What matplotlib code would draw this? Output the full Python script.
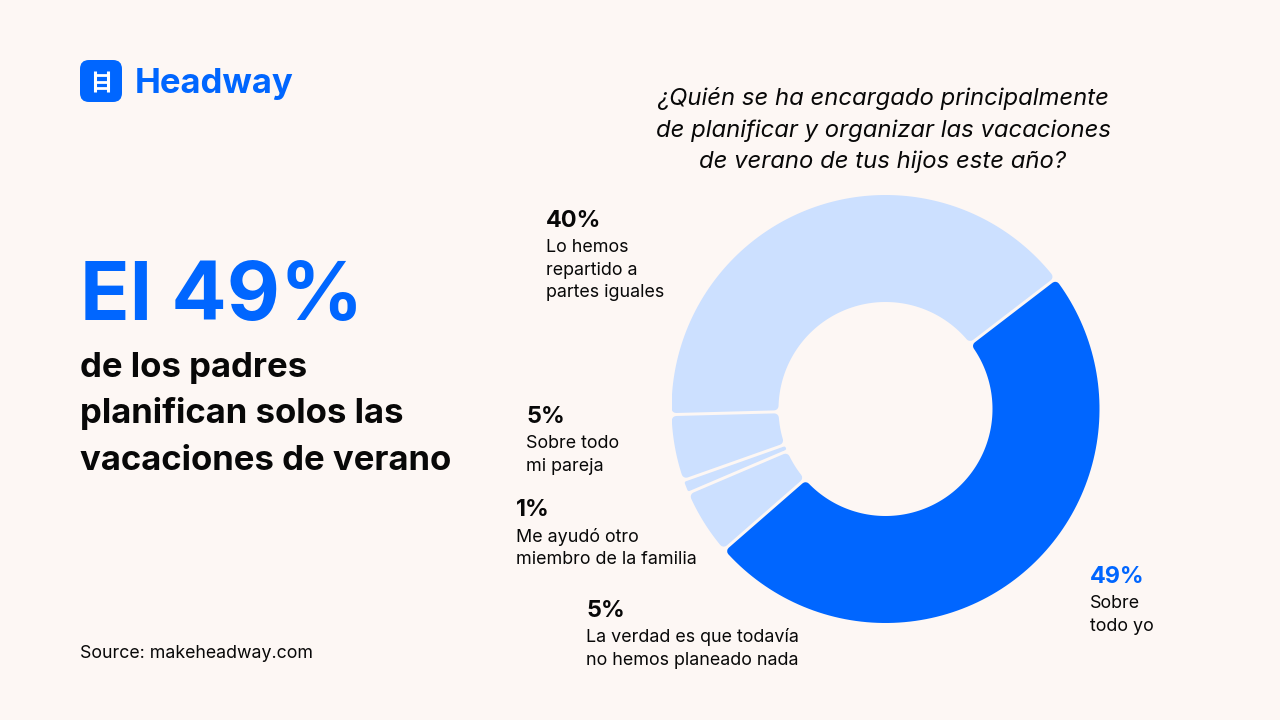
import numpy as np
import matplotlib
matplotlib.use("Agg")
import matplotlib.pyplot as plt
from matplotlib import font_manager as fm
from matplotlib.patches import FancyBboxPatch, Polygon
from matplotlib.lines import Line2D

# ---------------- data ----------------
categories = ["Sobre todo yo",
              "La verdad es que todavía no hemos planeado nada",
              "Me ayudó otro miembro de la familia",
              "Sobre todo mi pareja",
              "Lo hemos repartido a partes iguales"]
values = [49, 5, 1, 5, 40]
pct_labels = ["49%", "5%", "1%", "5%", "40%"]
label_lines = [["Sobre", "todo yo"],
               ["La verdad es que todavía", "no hemos planeado nada"],
               ["Me ayudó otro", "miembro de la familia"],
               ["Sobre todo", "mi pareja"],
               ["Lo hemos", "repartido a", "partes iguales"]]
question = ["¿Quién se ha encargado principalmente",
            "de planificar y organizar las vacaciones",
            "de verano de tus hijos este año?"]
headline = "El 49%"
sub_lines = ["de los padres", "planifican solos las", "vacaciones de verano"]
source = "Source: makeheadway.com"
brand = "Headway"

# ---------------- style ----------------
BG = "#FDF7F4"
BLUE = "#0066FF"
LIGHT = "#CCE0FF"
TXT = "#080808"
slice_colors = [BLUE, LIGHT, LIGHT, LIGHT, LIGHT]
pct_colors = [BLUE, TXT, TXT, TXT, TXT]

FONT = "Inter"
plt.rcParams["font.family"] = [FONT, "DejaVu Sans"]

# italic family choice
italic_family = None
for fam in ["Inter", "Open Sans", "Lato", "Roboto", "Noto Sans", "Liberation Sans", "DejaVu Sans"]:
    for f in fm.fontManager.ttflist:
        if f.name == fam and f.style in ("italic", "oblique"):
            italic_family = fam
            break
    if italic_family:
        break

W, H = 1280, 720
fig = plt.figure(figsize=(W / 100, H / 100), dpi=100, facecolor=BG)


def px(x, y):
    return x / W, 1 - y / H


def ftext(x, y, s, **kw):
    fx, fy = px(x, y)
    fig.text(fx, fy, s, **kw)


# ---------------- logo ----------------
ov = fig.add_axes([0, 0, 1, 1], facecolor="none")
ov.set_xlim(0, W)
ov.set_ylim(H, 0)
ov.axis("off")
ov.add_patch(FancyBboxPatch((80 + 9, 60 + 9), 42 - 18, 42 - 18,
                            boxstyle="round,pad=9", fc=BLUE, ec="none"))
for xx in (94.5, 107.5):
    ov.add_line(Line2D([xx, xx], [70.5, 92], color="white", lw=2.2, solid_capstyle="butt"))
for yy in (75, 81.5, 88):
    ov.add_line(Line2D([94.5, 107.5], [yy, yy], color="white", lw=2.0, solid_capstyle="butt"))
ftext(135, 92.5, brand, fontsize=25, fontweight="bold", color=BLUE, va="baseline")

# ---------------- left headline ----------------
ftext(80, 320, headline, fontsize=59, fontweight="bold", color=BLUE, va="baseline")
for i, line in enumerate(sub_lines):
    ftext(80, 377 + i * 46.5, line, fontsize=25, fontweight="bold", color=TXT, va="baseline")
ftext(80, 658, source, fontsize=12.8, color=TXT, va="baseline")

# ---------------- question ----------------
qkw = dict(fontsize=17.2, color=TXT, va="baseline", ha="center", style="italic")
if italic_family:
    qkw["family"] = [italic_family, "DejaVu Sans"]
for i, line in enumerate(question):
    ftext(883, 105 + i * 31.5, line, **qkw)

# ---------------- donut ----------------
cx, cy, R = 885.5, 409, 214
ax = fig.add_axes([(cx - R) / W, (H - cy - R) / H, 2 * R / W, 2 * R / H])
wedges, _ = ax.pie(values, startangle=37.5, counterclock=False, radius=1,
                   colors=slice_colors, wedgeprops=dict(width=0.5))
ax.set_xlim(-1, 1)
ax.set_ylim(-1, 1)
ax.set_aspect("equal")
ax.axis("off")

inner0, outer0 = 0.5, 1.0
gap = 3.0 / R
rc0 = 4.5 / R


def arc(Rr, a0, a1, n=120):
    t = np.linspace(a0, a1, n)
    return np.column_stack([Rr * np.cos(t), Rr * np.sin(t)])


for w, col in zip(wedges, slice_colors):
    t1 = np.deg2rad(min(w.theta1, w.theta2))
    t2 = np.deg2rad(max(w.theta1, w.theta2))
    w.set_visible(False)
    half = (t2 - t1) / 2
    rc = min(rc0, max(0.3 / R, (inner0 * np.sin(half) - gap / 2) * 0.85))
    d = gap / 2 + rc
    Ro, Ri = outer0 - rc, inner0 + rc
    a1o, a2o = t1 + np.arcsin(d / Ro), t2 - np.arcsin(d / Ro)
    a1i, a2i = t1 + np.arcsin(d / Ri), t2 - np.arcsin(d / Ri)
    if a2i <= a1i:
        m = (t1 + t2) / 2
        a1i = a2i = m
    pts = np.vstack([arc(Ro, a1o, a2o), arc(Ri, a2i, a1i)])
    lw = 2 * rc * R * 0.72
    ax.add_patch(Polygon(pts, closed=True, fc=col, ec=col, lw=lw, joinstyle="round"))

# ---------------- labels ----------------
label_pos = [(1090, 583), (586, 617), (516, 516), (526, 423), (546, 227)]
for (x, y), p, lines, pc in zip(label_pos, pct_labels, label_lines, pct_colors):
    ftext(x, y, p, fontsize=16.8, fontweight="bold", color=pc, va="baseline")
    for j, ln in enumerate(lines):
        ftext(x, y + 25.5 + j * 22.3, ln, fontsize=12.9, color=TXT, va="baseline")

fig.savefig("out.png", dpi=100, facecolor=BG)
